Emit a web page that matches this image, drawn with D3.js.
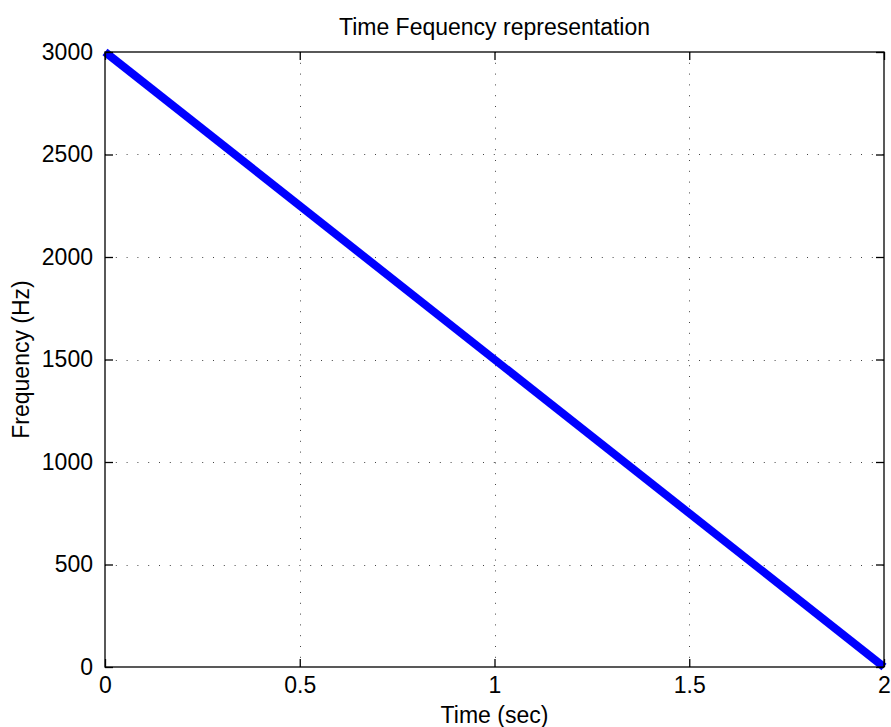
<!DOCTYPE html>
<html>
<head>
<meta charset="utf-8">
<script src="https://cdn.jsdelivr.net/npm/d3@7"></script>
<style>
  body { margin: 0; background: #fff; }
  text { font-family: "Liberation Sans", Arial, sans-serif; fill: #000; }
</style>
</head>
<body>
<div id="chart"></div>
<script>
// data
const timeValues = [0, 2];
const freqValues = [3000, 0];
const xTicks = [0, 0.5, 1, 1.5, 2];
const yTicks = [0, 500, 1000, 1500, 2000, 2500, 3000];

function drawChart() {
  const dimensions = {
    width: 891,
    height: 727,
    margin: { top: 52, right: 7, bottom: 60, left: 105 }
  };
  dimensions.boundedWidth = dimensions.width - dimensions.margin.left - dimensions.margin.right;
  dimensions.boundedHeight = dimensions.height - dimensions.margin.top - dimensions.margin.bottom;

  const fontSize = 23;

  const wrapper = d3.select('#chart')
    .append('svg')
      .attr('width', dimensions.width)
      .attr('height', dimensions.height);

  const bounds = wrapper.append('g')
    .attr('transform', `translate(${dimensions.margin.left},${dimensions.margin.top})`);

  const xScale = d3.scaleLinear()
    .domain([0, 2])
    .range([0, dimensions.boundedWidth]);

  const yScale = d3.scaleLinear()
    .domain([0, 3000])
    .range([dimensions.boundedHeight, 0]);

  // dotted grid
  const grid = bounds.append('g')
    .attr('stroke', '#444')
    .attr('stroke-width', 1)
    .attr('stroke-dasharray', '1,9.8');

  grid.selectAll('.vgrid')
    .data(xTicks.slice(1, -1))
    .join('line')
      .attr('x1', d => Math.round(xScale(d)) + 0.5)
      .attr('x2', d => Math.round(xScale(d)) + 0.5)
      .attr('y1', 0)
      .attr('y2', dimensions.boundedHeight);

  grid.selectAll('.hgrid')
    .data(yTicks.slice(1, -1))
    .join('line')
      .attr('y1', d => Math.round(yScale(d)) + 0.5)
      .attr('y2', d => Math.round(yScale(d)) + 0.5)
      .attr('x1', 0)
      .attr('x2', dimensions.boundedWidth);

  // data line
  const lineGen = d3.line()
    .x((d, i) => xScale(timeValues[i]))
    .y(d => yScale(d));

  bounds.append('path')
    .datum(freqValues)
    .attr('d', lineGen)
    .attr('fill', 'none')
    .attr('stroke', '#0000ff')
    .attr('stroke-width', 8)
    .attr('stroke-linecap', 'butt');

  // axes (inward ticks on all sides)
  const tickLen = 8;
  const bottomAxis = d3.axisBottom(xScale).tickValues(xTicks).tickSizeInner(-tickLen).tickSizeOuter(0).tickPadding(10).tickFormat(d3.format('~g'));
  const topAxis = d3.axisTop(xScale).tickValues(xTicks).tickSizeInner(-tickLen).tickSizeOuter(0).tickFormat('');
  const leftAxis = d3.axisLeft(yScale).tickValues(yTicks).tickSizeInner(-tickLen).tickSizeOuter(0).tickPadding(12).tickFormat(d3.format('d'));
  const rightAxis = d3.axisRight(yScale).tickValues(yTicks).tickSizeInner(-tickLen).tickSizeOuter(0).tickFormat('');

  const styleAxis = g => {
    g.select('.domain').remove();
    g.selectAll('line').attr('stroke', '#000').attr('stroke-width', 1.3);
    g.selectAll('text').attr('font-size', fontSize).attr('font-family', '"Liberation Sans", Arial, sans-serif');
  };

  bounds.append('g')
    .attr('transform', `translate(0,${dimensions.boundedHeight})`)
    .call(bottomAxis).call(styleAxis);
  bounds.append('g').call(topAxis).call(styleAxis);
  bounds.append('g').call(leftAxis).call(styleAxis);
  bounds.append('g')
    .attr('transform', `translate(${dimensions.boundedWidth},0)`)
    .call(rightAxis).call(styleAxis);

  // box
  bounds.append('rect')
    .attr('x', 0)
    .attr('y', 0)
    .attr('width', dimensions.boundedWidth)
    .attr('height', dimensions.boundedHeight)
    .attr('fill', 'none')
    .attr('stroke', '#000')
    .attr('stroke-width', 1.3);

  // labels
  wrapper.append('text')
    .attr('x', dimensions.margin.left + dimensions.boundedWidth / 2)
    .attr('y', 35)
    .attr('text-anchor', 'middle')
    .attr('font-size', fontSize)
    .text('Time Fequency representation');

  wrapper.append('text')
    .attr('x', dimensions.margin.left + dimensions.boundedWidth / 2)
    .attr('y', 723)
    .attr('text-anchor', 'middle')
    .attr('font-size', fontSize)
    .text('Time (sec)');

  wrapper.append('text')
    .attr('transform', `translate(29,${dimensions.margin.top + dimensions.boundedHeight / 2}) rotate(-90)`)
    .attr('text-anchor', 'middle')
    .attr('font-size', fontSize)
    .text('Frequency (Hz)');
}

drawChart();
</script>
</body>
</html>
